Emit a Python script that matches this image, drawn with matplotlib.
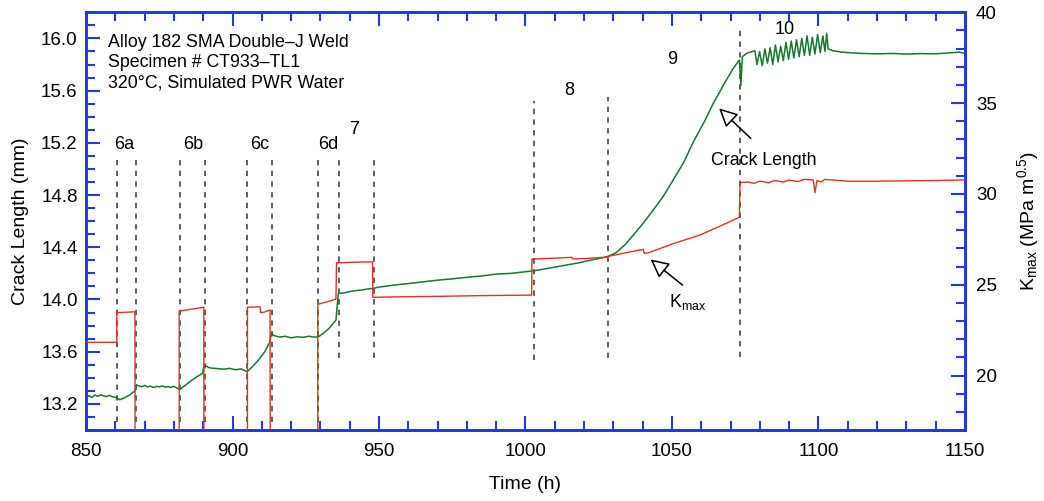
import matplotlib
matplotlib.use("Agg")
import matplotlib.pyplot as plt
from matplotlib.ticker import MultipleLocator, FormatStrFormatter

plt.rcParams['font.family'] = ['Liberation Sans', 'DejaVu Sans']
plt.rcParams['mathtext.default'] = 'regular'

# ---------------- data ----------------
# Crack length (mm) vs time (h)
crack_t = [850, 851, 852, 853, 854, 855, 856, 857, 858, 859, 860.5,
           861.5, 863, 865, 866.7, 867.2,
           868, 869, 870, 871, 872, 873, 874, 875, 876, 877, 878, 879, 880, 881, 882,
           884, 886, 888, 889.8, 890.3,
           891, 892, 893, 895, 897, 899, 901, 903, 905,
           907, 909, 911, 912.8, 913.2,
           914, 916, 918, 920, 922, 924, 926, 928, 929.3,
           931, 933, 935.3, 936.1,
           938, 940, 942, 944, 946, 948, 950, 955, 960, 965, 970, 975, 980, 985, 990,
           995, 1000, 1003, 1008, 1013, 1018, 1023, 1028,
           1031, 1034, 1036.8, 1040, 1043.6, 1047, 1050.4, 1054, 1057.3, 1061, 1064.1,
           1067.5, 1070.9, 1073, 1073.5, 1074, 1075.5, 1078.3,
           1079.0, 1079.9, 1080.8, 1081.7, 1082.6, 1083.5, 1084.4, 1085.3, 1086.2,
           1087.1, 1088.0, 1088.9, 1089.8, 1090.7, 1091.6, 1092.5, 1093.4, 1094.3,
           1095.2, 1096.1, 1097.0, 1097.9, 1098.8, 1099.7, 1100.6, 1101.5, 1102.2,
           1102.8, 1103.3,
           1105, 1108, 1111, 1115, 1120, 1125, 1130, 1135, 1140, 1145, 1148, 1150]
crack_mm = [13.255, 13.262, 13.250, 13.268, 13.258, 13.270, 13.262, 13.256, 13.266, 13.255, 13.248,
            13.232, 13.245, 13.270, 13.300, 13.345,
            13.338, 13.332, 13.342, 13.330, 13.336, 13.326, 13.334, 13.330, 13.338, 13.328,
            13.332, 13.326, 13.334, 13.322, 13.310,
            13.345, 13.380, 13.410, 13.435, 13.495,
            13.490, 13.478, 13.474, 13.470, 13.466, 13.472, 13.462, 13.468, 13.447,
            13.490, 13.540, 13.600, 13.676, 13.742,
            13.725, 13.712, 13.718, 13.706, 13.714, 13.710, 13.718, 13.712, 13.714,
            13.740, 13.780, 13.842, 14.047,
            14.050, 14.060, 14.068, 14.072, 14.080, 14.085, 14.095, 14.110, 14.122, 14.135,
            14.148, 14.158, 14.170, 14.180, 14.195,
            14.200, 14.212, 14.220, 14.240, 14.260, 14.280, 14.305, 14.327,
            14.360, 14.420, 14.494, 14.580, 14.685, 14.790, 14.915, 15.050, 15.208, 15.360, 15.503,
            15.640, 15.771, 15.834, 15.640, 15.860, 15.886, 15.906,
            15.80, 15.90, 15.79, 15.92, 15.81, 15.93, 15.80, 15.95, 15.82,
            15.94, 15.83, 15.97, 15.84, 15.98, 15.85, 15.99, 15.86, 16.00,
            15.87, 16.02, 15.87, 16.01, 15.88, 16.03, 15.89, 16.02, 15.90,
            16.04, 15.92,
            15.905, 15.895, 15.890, 15.885, 15.882, 15.885, 15.880, 15.884, 15.882, 15.890,
            15.895, 15.885]

# K_max (MPa m^0.5) vs time (h); 0 = unloaded (off scale)
kmax_t = [850, 860.5, 860.5, 866.7, 866.8, 881.8,
          881.8, 890.2, 890.3, 905.1,
          905.1, 909.4, 909.6, 911, 912.8, 913.0, 929.1,
          929.1, 932, 935.3, 935.5, 940, 944, 947.8, 947.9, 955, 970, 985, 1002.1,
          1002.2, 1010, 1015.8, 1016.0, 1021, 1026.6, 1033, 1040.2, 1040.5, 1042,
          1050, 1059.6, 1066, 1073.0, 1073.2, 1076, 1078, 1080, 1083, 1085, 1088, 1090,
          1093, 1095, 1098.2, 1098.8, 1099.5, 1101, 1102.2, 1110, 1120, 1130, 1140, 1150]
kmax_val = [21.83, 21.83, 23.46, 23.51, 0, 0,
            23.55, 23.76, 0, 0,
            23.76, 23.79, 23.46, 23.50, 23.61, 0, 0,
            23.92, 24.05, 24.21, 26.21, 26.23, 26.25, 26.26, 24.31, 24.33, 24.36, 24.40, 24.43,
            26.42, 26.46, 26.51, 26.42, 26.45, 26.51, 26.72, 26.95, 26.73, 26.76,
            27.24, 27.74, 28.20, 28.71, 30.62, 30.66, 30.58, 30.70, 30.62, 30.74, 30.66, 30.76,
            30.68, 30.80, 30.77, 30.07, 30.74, 30.66, 30.80, 30.70, 30.70, 30.72, 30.74, 30.77]

# test phase boundaries (h)
phase_low = [860.5, 867.0, 882.1, 890.6, 905.1, 913.4, 929.3]
phase_mid = [936.3, 948.2]
phase_8 = [1002.9, 1028.0]
phase_9 = [1073.2]

phase_labels = ["6a", "6b", "6c", "6d", "7", "8", "9", "10"]
phase_label_t = [863.0, 886.5, 909.4, 932.6, 941.5, 1014.8, 1050.0, 1088.6]
phase_label_y = [15.19, 15.19, 15.19, 15.19, 15.30, 15.60, 15.84, 16.07]

header = ["Alloy 182 SMA Double\u2013J Weld", "Specimen # CT933\u2013TL1",
          "320\u00b0C, Simulated PWR Water"]

# ---------------- plot ----------------
BLUE = '#1f3be0'
GREEN = '#17782c'
RED = '#e3321b'

fig = plt.figure(figsize=(10.44, 5.01), dpi=100)
ax = fig.add_axes([0.0824, 0.1417, 0.8419, 0.8337])
ax2 = ax.twinx()

ax.plot(crack_t, crack_mm, color=GREEN, lw=1.1, zorder=3)

dash_kw = dict(color='#333333', lw=1.1, linestyles=(0, (3.5, 3.5)), zorder=2)
ax.vlines(phase_low, 13.06, 15.07, **dash_kw)
ax.vlines(phase_mid, 13.55, 15.07, **dash_kw)
ax.vlines(phase_8[0], 13.536, 15.52, **dash_kw)
ax.vlines(phase_8[1], 13.55, 15.55, **dash_kw)
ax.vlines(phase_9, 13.56, 16.08, **dash_kw)

ax2.plot(kmax_t, kmax_val, color=RED, lw=1.0, zorder=3)

ax.set_xlim(850, 1150)
ax.set_ylim(13.0, 16.2)
ax2.set_ylim(17, 40)

ax.xaxis.set_major_locator(MultipleLocator(50))
ax.xaxis.set_minor_locator(MultipleLocator(10))
ax.yaxis.set_major_locator(MultipleLocator(0.4))
ax.yaxis.set_minor_locator(MultipleLocator(0.1))
ax.yaxis.set_major_formatter(FormatStrFormatter('%.1f'))
ax2.yaxis.set_major_locator(MultipleLocator(5))
ax2.yaxis.set_minor_locator(MultipleLocator(1))

ax.tick_params(axis='x', which='both', direction='in', top=True, bottom=True,
               color=BLUE, labelcolor='black', labelsize=13.5, width=1.5, pad=9)
ax.tick_params(axis='x', which='major', length=10)
ax.tick_params(axis='x', which='minor', length=6.5)
ax.tick_params(axis='y', which='both', direction='in', left=True, right=False,
               color=BLUE, labelcolor='black', labelsize=13.5, width=1.5, pad=6)
ax.tick_params(axis='y', which='major', length=10)
ax.tick_params(axis='y', which='minor', length=6.5)
ax2.tick_params(axis='y', which='both', direction='in', left=False, right=True,
                color=BLUE, labelcolor='black', labelsize=13.5, width=1.5, pad=8)
ax2.tick_params(axis='y', which='major', length=10)
ax2.tick_params(axis='y', which='minor', length=6.5)

for a in (ax, ax2):
    for s in a.spines.values():
        s.set_color(BLUE)
        s.set_linewidth(2.0)

ax.set_xlabel('Time (h)', fontsize=14, labelpad=12)
ax.set_ylabel('Crack Length (mm)', fontsize=14, labelpad=9)
ax2.set_ylabel(r'K$_{max}$ (MPa m$^{0.5}$)', fontsize=14, labelpad=13)

for i, line in enumerate(header):
    ax.text(0.025, 0.928 - i * 0.049, line, transform=ax.transAxes, fontsize=12.8,
            ha='left', va='center')

for lab, t, y in zip(phase_labels, phase_label_t, phase_label_y):
    ax.text(t, y, lab, fontsize=13, ha='center', va='center')

arrow_kw = dict(arrowstyle='-|>,head_length=0.8,head_width=0.4', fc='white',
                ec='black', lw=1.1, mutation_scale=14, shrinkA=0, shrinkB=0)
ax.annotate('', xy=(1066.1, 15.464), xytext=(1076.9, 15.234), arrowprops=arrow_kw)
ax.text(1081.4, 15.068, 'Crack Length', fontsize=12.8, ha='center', va='center')
ax.annotate('', xy=(1042.7, 14.307), xytext=(1053.6, 14.11), arrowprops=arrow_kw)
ax.text(1055.5, 13.98, r'K$_{max}$', fontsize=12.8, ha='center', va='center')

fig.savefig('out.png', dpi=100)
